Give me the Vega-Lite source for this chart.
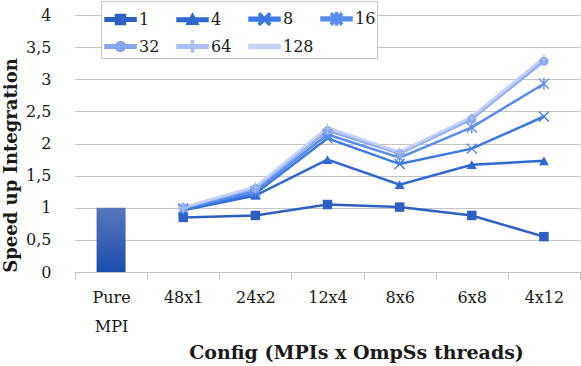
{
  "$schema": "https://vega.github.io/schema/vega-lite/v6.json",
  "width": 505,
  "height": 257,
  "autosize": "none",
  "padding": {"left": 75, "top": 15, "right": 1, "bottom": 94},
  "background": "white",
  "config": {
    "view": {"stroke": null},
    "font": "DejaVu Serif",
    "axis": {"labelFont": "DejaVu Serif", "titleFont": "DejaVu Serif", "labelFontSize": 16, "titleFontSize": 19, "labelColor": "#1a1a1a", "titleColor": "#1a1a1a", "titleFontWeight": "bold"},
    "legend": {"labelFont": "DejaVu Serif", "labelFontSize": 16, "labelColor": "#1a1a1a"}
  },
  "datasets": {
    "bar": [{"config": "Pure MPI", "speedup": 1}],
    "lines": [
      {"config": "48x1", "series": "1", "speedup": 0.85},
      {"config": "24x2", "series": "1", "speedup": 0.88},
      {"config": "12x4", "series": "1", "speedup": 1.05},
      {"config": "8x6", "series": "1", "speedup": 1.01},
      {"config": "6x8", "series": "1", "speedup": 0.88},
      {"config": "4x12", "series": "1", "speedup": 0.55},
      {"config": "48x1", "series": "4", "speedup": 0.96},
      {"config": "24x2", "series": "4", "speedup": 1.19},
      {"config": "12x4", "series": "4", "speedup": 1.75},
      {"config": "8x6", "series": "4", "speedup": 1.36},
      {"config": "6x8", "series": "4", "speedup": 1.67},
      {"config": "4x12", "series": "4", "speedup": 1.73},
      {"config": "48x1", "series": "8", "speedup": 0.97},
      {"config": "24x2", "series": "8", "speedup": 1.22},
      {"config": "12x4", "series": "8", "speedup": 2.08},
      {"config": "8x6", "series": "8", "speedup": 1.68},
      {"config": "6x8", "series": "8", "speedup": 1.92},
      {"config": "4x12", "series": "8", "speedup": 2.42},
      {"config": "48x1", "series": "16", "speedup": 0.99},
      {"config": "24x2", "series": "16", "speedup": 1.26},
      {"config": "12x4", "series": "16", "speedup": 2.14},
      {"config": "8x6", "series": "16", "speedup": 1.78},
      {"config": "6x8", "series": "16", "speedup": 2.25},
      {"config": "4x12", "series": "16", "speedup": 2.93},
      {"config": "48x1", "series": "32", "speedup": 1.0},
      {"config": "24x2", "series": "32", "speedup": 1.3},
      {"config": "12x4", "series": "32", "speedup": 2.2},
      {"config": "8x6", "series": "32", "speedup": 1.84},
      {"config": "6x8", "series": "32", "speedup": 2.38},
      {"config": "4x12", "series": "32", "speedup": 3.28},
      {"config": "48x1", "series": "64", "speedup": 1.0},
      {"config": "24x2", "series": "64", "speedup": 1.32},
      {"config": "12x4", "series": "64", "speedup": 2.23},
      {"config": "8x6", "series": "64", "speedup": 1.86},
      {"config": "6x8", "series": "64", "speedup": 2.4},
      {"config": "4x12", "series": "64", "speedup": 3.31},
      {"config": "48x1", "series": "128", "speedup": 1.01},
      {"config": "24x2", "series": "128", "speedup": 1.33},
      {"config": "12x4", "series": "128", "speedup": 2.25},
      {"config": "8x6", "series": "128", "speedup": 1.87},
      {"config": "6x8", "series": "128", "speedup": 2.42},
      {"config": "4x12", "series": "128", "speedup": 3.34}
    ]
  },
  "encoding": {
    "x": {
      "field": "config", "type": "nominal",
      "scale": {"domain": ["Pure MPI", "48x1", "24x2", "12x4", "8x6", "6x8", "4x12"], "paddingInner": 0, "paddingOuter": 0},
      "title": "Config (MPIs x OmpSs threads)",
      "axis": {
        "labelAngle": 0, "grid": false, "domainColor": "#c4c4c4", "tickColor": "#c4c4c4", "tickBand": "extent", "tickSize": 7,
        "labelPadding": 10, "labelLineHeight": 29,
        "labelExpr": "datum.value == 'Pure MPI' ? ['Pure', 'MPI'] : datum.value",
        "titleX": 281, "titleY": 80, "titleBaseline": "middle", "titleAlign": "center"
      }
    },
    "y": {
      "field": "speedup", "type": "quantitative",
      "scale": {"domain": [0, 4], "nice": false},
      "title": "Speed up Integration",
      "axis": {
        "values": [0, 0.5, 1, 1.5, 2, 2.5, 3, 3.5, 4], "grid": true, "gridColor": "#c4c4c4", "domain": false, "ticks": false,
        "labelPadding": 24, "format": "~g", "labelExpr": "replace(datum.label, '.', ',')",
        "titleX": -64, "titleY": 150, "titleAngle": -90, "titleBaseline": "middle", "titleAlign": "center", "titleFontSize": 18
      }
    }
  },
  "layer": [
    {
      "data": {"name": "bar"},
      "mark": {"type": "bar", "width": 29, "color": {"gradient": "linear", "x1": 0, "y1": 0, "x2": 0, "y2": 1, "stops": [{"offset": 0, "color": "#5877bd"}, {"offset": 1, "color": "#1b4dad"}]}}
    },
    {
      "data": {"name": "lines"},
      "mark": {"type": "line"},
      "encoding": {
        "color": {"field": "series", "type": "nominal",
          "scale": {"domain": ["1", "4", "8", "16", "32", "64", "128"], "range": ["#2e60c4", "#3067d1", "#3b78e3", "#5a8cee", "#86a7ef", "#a9bef2", "#c4d2f4"]},
          "legend": {
            "title": null, "orient": "none", "legendX": 26, "legendY": -14, "columns": 4, "direction": "horizontal", "gridAlign": "all",
            "strokeColor": "#c4c4c4", "fillColor": "white", "padding": 1, "rowPadding": -1, "columnPadding": 2, "symbolSize": 900, "labelOffset": 2, "symbolOffset": 2,
            "encode": {"symbols": {"update": {"opacity": {"value": 1}, "fillOpacity": {"value": 1}, "strokeWidth": {"value": 0}, "fill": {"scale": "color", "field": "value"}}}}
          }},
        "strokeWidth": {"field": "series", "type": "nominal", "scale": {"domain": ["1", "4", "8", "16", "32", "64", "128"], "range": [2.5, 2.5, 2.5, 2.5, 3, 3.5, 4]}, "legend": null},
        "order": {"value": null}
      }
    },
    {
      "data": {"name": "lines"},
      "transform": [{"filter": "datum.series == '1'"}],
      "mark": {"type": "point", "filled": true, "opacity": 1, "shape": "square", "size": 90},
      "encoding": {"color": {"field": "series", "type": "nominal"}}
    },
    {
      "data": {"name": "lines"},
      "transform": [{"filter": "datum.series == '4'"}],
      "mark": {"type": "point", "filled": true, "opacity": 1, "shape": "triangle-up", "size": 100},
      "encoding": {"color": {"field": "series", "type": "nominal"}}
    },
    {
      "data": {"name": "lines"},
      "transform": [{"filter": "datum.series == '8'"}],
      "mark": {"type": "point", "filled": false, "opacity": 1, "shape": "M-1,-1L1,1M-1,1L1,-1", "size": 100, "strokeWidth": 1.3},
      "encoding": {"color": {"field": "series", "type": "nominal"}}
    },
    {
      "data": {"name": "lines"},
      "transform": [{"filter": "datum.series == '16'"}],
      "mark": {"type": "point", "filled": false, "opacity": 1, "shape": "M-1,-1L1,1M-1,1L1,-1M0,-1.2V1.2", "size": 100, "strokeWidth": 1.3},
      "encoding": {"color": {"field": "series", "type": "nominal"}}
    },
    {
      "data": {"name": "lines"},
      "transform": [{"filter": "datum.series == '32'"}],
      "mark": {"type": "point", "filled": true, "opacity": 1, "shape": "circle", "size": 80},
      "encoding": {"color": {"field": "series", "type": "nominal"}}
    },
    {
      "data": {"name": "lines"},
      "transform": [{"filter": "datum.series == '64'"}],
      "mark": {"type": "point", "filled": false, "opacity": 1, "shape": "M0,-1V1M-1,0H1", "size": 100, "strokeWidth": 1.3},
      "encoding": {"color": {"field": "series", "type": "nominal"}}
    },
    {
      "data": {"name": "lines"},
      "mark": {"type": "point", "filled": true, "opacity": 0},
      "encoding": {
        "color": {"field": "series", "type": "nominal"},
        "shape": {"field": "series", "type": "nominal",
          "scale": {"domain": ["1", "4", "8", "16", "32", "64", "128"], "range": [
            "M-1,-0.087H1V0.087H-1Z M-0.3,-0.3H0.3V0.3H-0.3Z",
            "M-1,-0.087H1V0.087H-1Z M0,-0.33L0.33,0.27H-0.33Z",
            "M-1,-0.087H1V0.087H-1Z M-0.35,-0.29L-0.29,-0.35L0.35,0.29L0.29,0.35Z M-0.35,0.29L0.29,-0.35L0.35,-0.29L-0.29,0.35Z",
            "M-1,-0.087H1V0.087H-1Z M-0.35,-0.29L-0.29,-0.35L0.35,0.29L0.29,0.35Z M-0.35,0.29L0.29,-0.35L0.35,-0.29L-0.29,0.35Z M-0.035,-0.38H0.035V0.38H-0.035Z",
            "M-1,-0.087H1V0.087H-1Z M-0.3,0A0.3,0.3,0,1,1,0.3,0A0.3,0.3,0,1,1,-0.3,0Z",
            "M-1,-0.087H1V0.087H-1Z M-0.04,-0.33H0.04V0.33H-0.04Z",
            "M-1,-0.1H1V0.1H-1Z"
          ]}}
      }
    }
  ]
}
